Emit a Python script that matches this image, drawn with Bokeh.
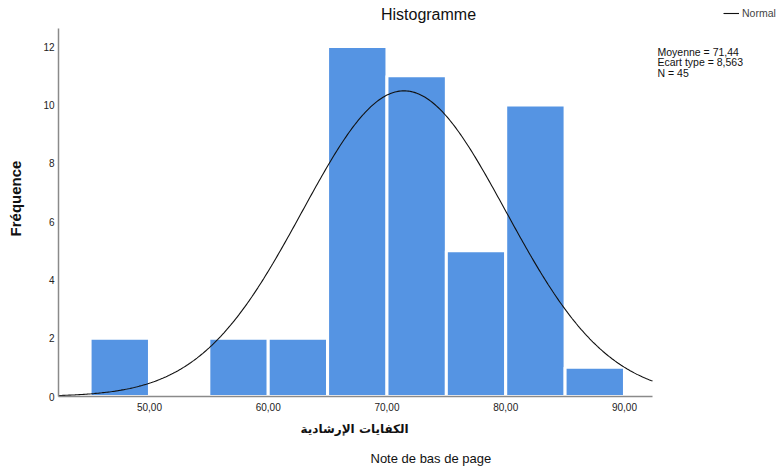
import numpy as np
from bokeh.plotting import figure
from bokeh.models import Range1d, FixedTicker, Label, Legend, LegendItem, Title
from bokeh.embed import file_html
from bokeh.resources import INLINE

# ---- data ----
bin_edges = [45, 50, 55, 60, 65, 70, 75, 80, 85, 90]
counts = [2, 0, 2, 2, 12, 11, 5, 10, 1]
x_ticks = [50, 60, 70, 80, 90]
x_tick_labels = ["50,00", "60,00", "70,00", "80,00", "90,00"]
y_ticks = [0, 2, 4, 6, 8, 10, 12]
mean = 71.44
sd = 8.563
n = 45
stats_lines = ["Moyenne = 71,44", "Ecart type = 8,563", "N = 45"]
title_text = "Histogramme"
x_label = "الكفايات الإرشادية"
y_label = "Fréquence"
footnote = "Note de bas de page"
legend_label = "Normal"

FONT = "Liberation Sans"
x_min, x_max = 42.34, 92.36      # extent of the drawn axes
y_top = 12.62
W, H = 777, 473
LEFT, BOTTOM = 58, 77
px_per_x = 11.875
px_per_y = 29.16
frame_w = W - LEFT
frame_h = H - BOTTOM

p = figure(width=W, height=H, output_backend="svg", toolbar_location=None,
           x_range=Range1d(x_min, x_min + frame_w / px_per_x),
           y_range=Range1d(0, frame_h / px_per_y),
           min_border_left=LEFT, min_border_right=0, min_border_top=0,
           min_border_bottom=BOTTOM)
p.outline_line_color = None
p.grid.visible = False

p.quad(left=bin_edges[:-1], right=bin_edges[1:], bottom=0, top=counts,
       fill_color="#5594E3", line_color="white", line_width=3)

bin_w = bin_edges[1] - bin_edges[0]
xs = np.linspace(x_min, x_max, 400)
ys = n * bin_w / (sd * np.sqrt(2 * np.pi)) * np.exp(-0.5 * ((xs - mean) / sd) ** 2)
curve = p.line(xs, ys, line_color="#111111", line_width=1.1)

p.xaxis.ticker = FixedTicker(ticks=x_ticks)
p.xaxis.major_label_overrides = {t: l for t, l in zip(x_ticks, x_tick_labels)}
p.xaxis.bounds = (x_min, x_max)
p.yaxis.ticker = FixedTicker(ticks=y_ticks)
p.yaxis.bounds = (0, y_top)
for ax in (p.xaxis[0], p.yaxis[0]):
    ax.major_tick_in = 0
    ax.major_tick_out = 0
    ax.minor_tick_in = 0
    ax.minor_tick_out = 0
    ax.axis_line_color = "#8a8a8a"
    ax.axis_line_width = 1.5
    ax.major_label_text_font = FONT
    ax.major_label_text_font_size = "10px"
    ax.major_label_text_color = "#222222"

p.xaxis.major_label_standoff = 6
p.yaxis.major_label_standoff = 4
p.yaxis.axis_label = y_label
p.yaxis.axis_label_text_font = FONT
p.yaxis.axis_label_text_font_size = "15px"
p.yaxis.axis_label_text_font_style = "bold"
p.yaxis.axis_label_text_color = "#111111"
p.yaxis.axis_label_standoff = 16

# x-axis title, centred under the drawn axis (not the wider frame)
p.add_layout(Title(text=x_label, align="left", offset=242, text_font="DejaVu Sans",
                   text_font_size="12px", text_font_style="bold",
                   text_color="#111111", standoff=13), "below")
p.add_layout(Title(text=footnote, align="left", offset=312, text_font=FONT,
                   text_font_size="13px", text_font_style="normal",
                   text_color="#111111", standoff=13), "below")

# title (screen units relative to the frame's bottom-left corner)
p.add_layout(Label(x=370, y=frame_h - 14, x_units="screen", y_units="screen",
                   text=title_text, text_font=FONT, text_font_size="16px",
                   text_align="center", text_baseline="middle", text_color="#111111"))

for i, s in enumerate(stats_lines):
    p.add_layout(Label(x=599, y=frame_h - 51 - i * 10.5, x_units="screen", y_units="screen",
                       text=s, text_font=FONT, text_font_size="10.5px", text_align="left",
                       text_baseline="middle", text_color="#111111"))

legend = Legend(items=[LegendItem(label=legend_label, renderers=[curve])],
                location=(665, frame_h - 19), border_line_color=None,
                background_fill_alpha=0, padding=0, margin=0, glyph_width=16,
                glyph_height=10, label_height=10, label_standoff=3,
                label_text_font=FONT, label_text_font_size="10.5px")
p.add_layout(legend)

open("out.html", "w").write(file_html(p, INLINE))
